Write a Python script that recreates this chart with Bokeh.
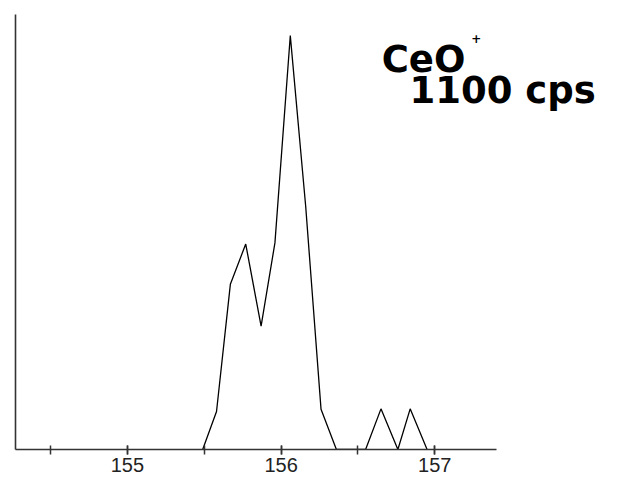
from bokeh.plotting import figure
from bokeh.models import Range1d, FixedTicker, Label
from bokeh.embed import file_html
from bokeh.resources import INLINE

# data
mass = [155.49, 155.58, 155.67, 155.77, 155.87, 155.96, 156.06, 156.16,
        156.26, 156.36, 156.45, 156.55, 156.65, 156.76, 156.84, 156.95]
cps = [0, 101, 439, 546, 328, 549, 1100, 647,
       107, 0, 0, 0, 108, 0, 108, 0]
x_major = [155, 156, 157]
x_minor = [154.5, 155, 155.5, 156, 156.5, 157]
title_text = "CeO"
title_sup = "+"
rate_text = "1100 cps"

p = figure(width=621, height=479, output_backend="svg", toolbar_location=None,
           x_range=Range1d(154.272, 158.215), y_range=Range1d(0, 1156),
           min_border_left=15, min_border_right=0, min_border_top=14,
           min_border_bottom=30)
p.outline_line_color = None
p.xgrid.visible = False
p.ygrid.visible = False
p.background_fill_color = "white"
p.border_fill_color = "white"

p.line(mass, cps, line_color="black", line_width=1.3)

xa = p.xaxis[0]
xa.bounds = (154.272, 157.40)
xa.ticker = FixedTicker(ticks=x_major, minor_ticks=x_minor)
xa.axis_line_color = "#333333"
xa.axis_line_width = 1.6
xa.major_tick_line_color = "#333333"
xa.major_tick_line_width = 1.5
xa.minor_tick_line_color = "#333333"
xa.minor_tick_line_width = 1.5
xa.major_tick_in = 4
xa.major_tick_out = 5
xa.minor_tick_in = 4
xa.minor_tick_out = 5
xa.major_label_standoff = 3
xa.major_label_text_font = "Liberation Sans"
xa.major_label_text_font_size = "20px"
xa.major_label_text_color = "#222222"

ya = p.yaxis[0]
ya.ticker = FixedTicker(ticks=[])
ya.axis_line_color = "#333333"
ya.axis_line_width = 1.6
ya.major_tick_line_color = None
ya.minor_tick_line_color = None
ya.major_tick_out = 0
ya.major_tick_in = 0
ya.major_label_standoff = 0

p.add_layout(Label(x=156.927, y=1037, text=title_text, text_font="DejaVu Sans",
                   text_font_style="bold", text_font_size="37px",
                   text_align="center", text_baseline="alphabetic",
                   text_color="black"))
p.add_layout(Label(x=157.27, y=1092, text=title_sup, text_font="DejaVu Sans",
                   text_font_style="bold", text_font_size="12px",
                   text_align="center", text_baseline="alphabetic",
                   text_color="black"))
p.add_layout(Label(x=157.441, y=953, text=rate_text, text_font="DejaVu Sans",
                   text_font_style="bold", text_font_size="37px",
                   text_align="center", text_baseline="alphabetic",
                   text_color="black"))

open("out.html", "w").write(file_html(p, INLINE))
